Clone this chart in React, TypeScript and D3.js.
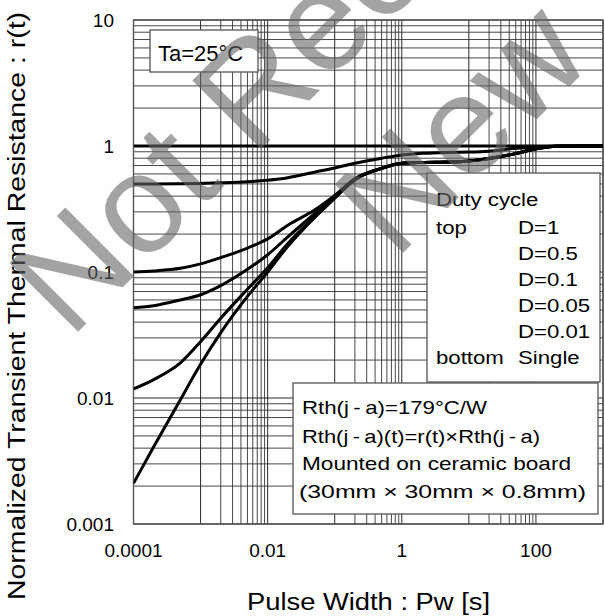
import React from "react";
import * as d3 from "d3";

// ---- data ----
const pulseWidth = [1e-4, 2e-4, 5e-4, 1e-3, 2e-3, 5e-3, 1e-2, 2e-2, 5e-2, 0.1, 0.2, 0.5, 1, 2, 5, 10, 20, 50, 100, 200, 500, 1000];
const rD1 = [1, 1, 1, 1, 1, 1, 1, 1, 1, 1, 1, 1, 1, 1, 1, 1, 1, 1, 1, 1, 1, 1];
const rD05 = [0.5, 0.5, 0.502, 0.505, 0.51, 0.52, 0.535, 0.56, 0.62, 0.67, 0.73, 0.8, 0.85, 0.875, 0.89, 0.895, 0.91, 0.96, 0.98, 1.0, 1.0, 1.0];
const rD01 = [0.1, 0.102, 0.107, 0.116, 0.13, 0.155, 0.183, 0.235, 0.31, 0.405, 0.55, 0.665, 0.73, 0.74, 0.745, 0.76, 0.795, 0.87, 0.95, 0.995, 1, 1];
const rD005 = [0.052, 0.054, 0.06, 0.066, 0.078, 0.105, 0.137, 0.19, 0.29, 0.395, 0.545, 0.665, 0.73, 0.74, 0.745, 0.76, 0.795, 0.87, 0.95, 0.995, 1, 1];
const rD001 = [0.0118, 0.014, 0.019, 0.028, 0.043, 0.073, 0.108, 0.168, 0.275, 0.39, 0.54, 0.665, 0.73, 0.74, 0.745, 0.76, 0.795, 0.87, 0.95, 0.995, 1, 1];
const rSingle = [0.0021, 0.0041, 0.0097, 0.0185, 0.033, 0.064, 0.1, 0.16, 0.27, 0.385, 0.54, 0.665, 0.73, 0.74, 0.745, 0.76, 0.795, 0.87, 0.95, 0.995, 1, 1];
const seriesList = [rD1, rD05, rD01, rD005, rD001, rSingle];

const xDecades = [1e-4, 1e-3, 1e-2, 1e-1, 1, 10, 100, 1000];
const xMinorDecades = [1e-3, 1e-1, 10];
const yDecades = [1e-3, 1e-2, 1e-1, 1, 10];
const yMinorDecades = [1e-3, 1e-2, 1e-1, 1];
const xTickValues = [1e-4, 1e-2, 1, 100];
const xTickLabels = ["0.0001", "0.01", "1", "100"];
const yTickValues = [1e-3, 1e-2, 1e-1, 1, 10];
const yTickLabels = ["0.001", "0.01", "0.1", "1", "10"];

const dutyLeft = ["top", "", "", "", "", "bottom"];
const dutyRight = ["D=1", "D=0.5", "D=0.1", "D=0.05", "D=0.01", "Single"];
const noteLines = [
  "Rth(j\u2009-\u2009a)=179°C/W",
  "Rth(j\u2009-\u2009a)(t)=r(t)×Rth(j\u2009-\u2009a)",
  "Mounted on ceramic board",
  "(30mm × 30mm × 0.8mm)",
];
const noteWidths = [185, 238, 269, 287];
const watermarkLines = ["Not Recommended for", "New Designs"];

const FONT = "'Liberation Sans', Arial, Helvetica, sans-serif";

export default function App() {
  const W = 605, H = 616;
  const x = d3.scaleLog().domain([1e-4, 1e3]).range([133.5, 603]);
  const y = d3.scaleLog().domain([1e-3, 10]).range([524, 20]);
  const [x0, x1] = x.range();
  const [y0, y1] = y.range();

  const vMinor: number[] = [];
  xMinorDecades.forEach((d) => { for (let k = 2; k <= 9; k++) vMinor.push(k * d); });
  const hMinor: number[] = [];
  yMinorDecades.forEach((d) => { for (let k = 2; k <= 9; k++) hMinor.push(k * d); });

  const line = d3
    .line<number>()
    .x((_, i) => x(pulseWidth[i]))
    .y((v) => y(v))
    .curve(d3.curveMonotoneX);

  const gridColor = "#333";

  return (
    <svg width={W} height={H} style={{ position: "absolute", left: 0, top: 0, background: "#fff" }} fontFamily={FONT}>
      <defs>
        <clipPath id="plot">
          <rect x={x0} y={y1} width={x1 - x0} height={y0 - y1} />
        </clipPath>
      </defs>
      <rect x={0} y={0} width={W} height={H} fill="#fff" />
      {/* grid */}
      <g stroke={gridColor} strokeWidth={0.9} fill="none">
        {vMinor.map((v, i) => (
          <line key={"vm" + i} x1={x(v)} x2={x(v)} y1={y1} y2={y0} />
        ))}
        {xDecades.map((v, i) => (
          <line key={"vM" + i} x1={x(v)} x2={x(v)} y1={y1} y2={y0} stroke="#111" />
        ))}
        {hMinor.map((v, i) => (
          <line key={"hm" + i} x1={x0} x2={x1} y1={y(v)} y2={y(v)} />
        ))}
        {yDecades.map((v, i) => (
          <line key={"hM" + i} x1={x0} x2={x1} y1={y(v)} y2={y(v)} stroke="#111" />
        ))}
      </g>
      <rect x={x0} y={y1} width={x1 - x0} height={y0 - y1} fill="none" stroke="#555" strokeWidth={1.4} />
      {/* curves */}
      <g clipPath="url(#plot)" fill="none" stroke="#000" strokeWidth={3} strokeLinejoin="round">
        {seriesList.map((s, i) => (
          <path key={"c" + i} d={line(s) || ""} />
        ))}
      </g>
      {/* tick labels */}
      <g fontSize={19} fill="#000">
        {xTickValues.map((v, i) => (
          <text key={"xt" + i} x={x(v)} y={557} textAnchor="middle">{xTickLabels[i]}</text>
        ))}
        {yTickValues.map((v, i) => (
          <text key={"yt" + i} x={114} y={y(v) + 6.8} textAnchor="end">{yTickLabels[i]}</text>
        ))}
      </g>
      {/* axis titles */}
      <text x={368.5} y={610} fontSize={23.5} textAnchor="middle" textLength={243} lengthAdjust="spacingAndGlyphs">
        Pulse Width : Pw [s]
      </text>
      <text transform="translate(25,306) rotate(-90)" fontSize={23} textAnchor="middle" textLength={588} lengthAdjust="spacingAndGlyphs">
        Normalized Transient Thermal Resistance : r(t)
      </text>
      {/* Ta box */}
      <rect x={150} y={30} width={108} height={42} fill="#fff" stroke="#555" strokeWidth={1.3} />
      <text x={158} y={61} fontSize={22}>Ta=25°C</text>
      {/* duty legend */}
      <rect x={427} y={173} width={173} height={209} fill="#fff" stroke="#555" strokeWidth={1.3} />
      <g fontSize={18.5}>
        <text transform="translate(436,206) scale(1.2,1)">Duty cycle</text>
        {dutyRight.map((t, i) => (
          <g key={"dl" + i}>
            {dutyLeft[i] && (
              <text transform={`translate(436,${234 + i * 26}) scale(1.2,1)`}>{dutyLeft[i]}</text>
            )}
            <text transform={`translate(518,${234 + i * 26}) scale(1.2,1)`}>{t}</text>
          </g>
        ))}
      </g>
      {/* note box */}
      <rect x={293} y={383} width={305} height={131} fill="#fff" stroke="#555" strokeWidth={1.3} />
      <g fontSize={18.5}>
        {noteLines.map((t, i) => (
          <text key={"nl" + i} x={i === 3 ? 299 : 302} y={[414, 443, 470, 498][i]} textLength={noteWidths[i]} lengthAdjust="spacingAndGlyphs">
            {t}
          </text>
        ))}
      </g>
      {/* watermark */}
      <g fontSize={141} fill="#666" fillOpacity={0.6}>
        <text transform="translate(70,340) rotate(-45)">{watermarkLines[0]}</text>
        <text transform="translate(395,261) rotate(-45)">{watermarkLines[1]}</text>
      </g>
    </svg>
  );
}
